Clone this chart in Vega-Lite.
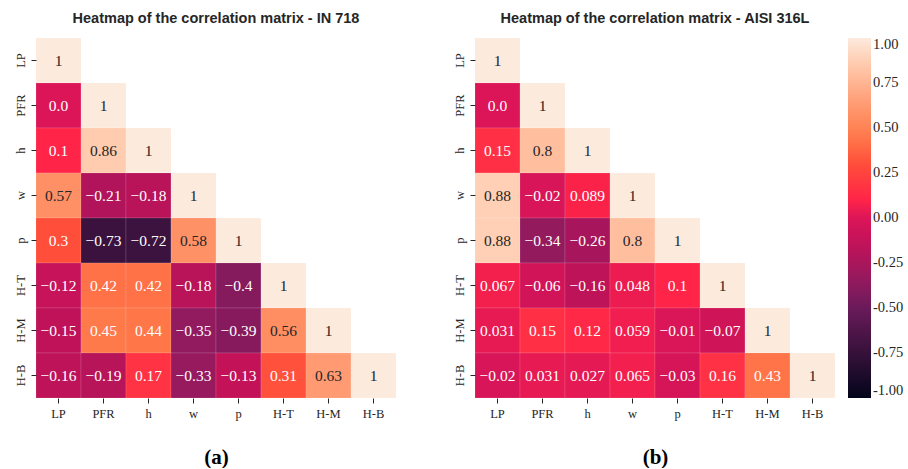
{
  "$schema": "https://vega.github.io/schema/vega-lite/v6.json",
  "padding": {"left": 14, "top": 11, "right": 0, "bottom": 0},
  "background": "white",
  "datasets": {
    "corr": [
      {"panel": "a", "row": "LP", "col": "LP", "value": 1, "label": "1"},
      {"panel": "a", "row": "PFR", "col": "LP", "value": 0.0, "label": "0.0"},
      {"panel": "a", "row": "PFR", "col": "PFR", "value": 1, "label": "1"},
      {"panel": "a", "row": "h", "col": "LP", "value": 0.1, "label": "0.1"},
      {"panel": "a", "row": "h", "col": "PFR", "value": 0.86, "label": "0.86"},
      {"panel": "a", "row": "h", "col": "h", "value": 1, "label": "1"},
      {"panel": "a", "row": "w", "col": "LP", "value": 0.57, "label": "0.57"},
      {"panel": "a", "row": "w", "col": "PFR", "value": -0.21, "label": "−0.21"},
      {"panel": "a", "row": "w", "col": "h", "value": -0.18, "label": "−0.18"},
      {"panel": "a", "row": "w", "col": "w", "value": 1, "label": "1"},
      {"panel": "a", "row": "p", "col": "LP", "value": 0.3, "label": "0.3"},
      {"panel": "a", "row": "p", "col": "PFR", "value": -0.73, "label": "−0.73"},
      {"panel": "a", "row": "p", "col": "h", "value": -0.72, "label": "−0.72"},
      {"panel": "a", "row": "p", "col": "w", "value": 0.58, "label": "0.58"},
      {"panel": "a", "row": "p", "col": "p", "value": 1, "label": "1"},
      {"panel": "a", "row": "H-T", "col": "LP", "value": -0.12, "label": "−0.12"},
      {"panel": "a", "row": "H-T", "col": "PFR", "value": 0.42, "label": "0.42"},
      {"panel": "a", "row": "H-T", "col": "h", "value": 0.42, "label": "0.42"},
      {"panel": "a", "row": "H-T", "col": "w", "value": -0.18, "label": "−0.18"},
      {"panel": "a", "row": "H-T", "col": "p", "value": -0.4, "label": "−0.4"},
      {"panel": "a", "row": "H-T", "col": "H-T", "value": 1, "label": "1"},
      {"panel": "a", "row": "H-M", "col": "LP", "value": -0.15, "label": "−0.15"},
      {"panel": "a", "row": "H-M", "col": "PFR", "value": 0.45, "label": "0.45"},
      {"panel": "a", "row": "H-M", "col": "h", "value": 0.44, "label": "0.44"},
      {"panel": "a", "row": "H-M", "col": "w", "value": -0.35, "label": "−0.35"},
      {"panel": "a", "row": "H-M", "col": "p", "value": -0.39, "label": "−0.39"},
      {"panel": "a", "row": "H-M", "col": "H-T", "value": 0.56, "label": "0.56"},
      {"panel": "a", "row": "H-M", "col": "H-M", "value": 1, "label": "1"},
      {"panel": "a", "row": "H-B", "col": "LP", "value": -0.16, "label": "−0.16"},
      {"panel": "a", "row": "H-B", "col": "PFR", "value": -0.19, "label": "−0.19"},
      {"panel": "a", "row": "H-B", "col": "h", "value": 0.17, "label": "0.17"},
      {"panel": "a", "row": "H-B", "col": "w", "value": -0.33, "label": "−0.33"},
      {"panel": "a", "row": "H-B", "col": "p", "value": -0.13, "label": "−0.13"},
      {"panel": "a", "row": "H-B", "col": "H-T", "value": 0.31, "label": "0.31"},
      {"panel": "a", "row": "H-B", "col": "H-M", "value": 0.63, "label": "0.63"},
      {"panel": "a", "row": "H-B", "col": "H-B", "value": 1, "label": "1"},

      {"panel": "b", "row": "LP", "col": "LP", "value": 1, "label": "1"},
      {"panel": "b", "row": "PFR", "col": "LP", "value": 0.0, "label": "0.0"},
      {"panel": "b", "row": "PFR", "col": "PFR", "value": 1, "label": "1"},
      {"panel": "b", "row": "h", "col": "LP", "value": 0.15, "label": "0.15"},
      {"panel": "b", "row": "h", "col": "PFR", "value": 0.8, "label": "0.8"},
      {"panel": "b", "row": "h", "col": "h", "value": 1, "label": "1"},
      {"panel": "b", "row": "w", "col": "LP", "value": 0.88, "label": "0.88"},
      {"panel": "b", "row": "w", "col": "PFR", "value": -0.02, "label": "−0.02"},
      {"panel": "b", "row": "w", "col": "h", "value": 0.089, "label": "0.089"},
      {"panel": "b", "row": "w", "col": "w", "value": 1, "label": "1"},
      {"panel": "b", "row": "p", "col": "LP", "value": 0.88, "label": "0.88"},
      {"panel": "b", "row": "p", "col": "PFR", "value": -0.34, "label": "−0.34"},
      {"panel": "b", "row": "p", "col": "h", "value": -0.26, "label": "−0.26"},
      {"panel": "b", "row": "p", "col": "w", "value": 0.8, "label": "0.8"},
      {"panel": "b", "row": "p", "col": "p", "value": 1, "label": "1"},
      {"panel": "b", "row": "H-T", "col": "LP", "value": 0.067, "label": "0.067"},
      {"panel": "b", "row": "H-T", "col": "PFR", "value": -0.06, "label": "−0.06"},
      {"panel": "b", "row": "H-T", "col": "h", "value": -0.16, "label": "−0.16"},
      {"panel": "b", "row": "H-T", "col": "w", "value": 0.048, "label": "0.048"},
      {"panel": "b", "row": "H-T", "col": "p", "value": 0.1, "label": "0.1"},
      {"panel": "b", "row": "H-T", "col": "H-T", "value": 1, "label": "1"},
      {"panel": "b", "row": "H-M", "col": "LP", "value": 0.031, "label": "0.031"},
      {"panel": "b", "row": "H-M", "col": "PFR", "value": 0.15, "label": "0.15"},
      {"panel": "b", "row": "H-M", "col": "h", "value": 0.12, "label": "0.12"},
      {"panel": "b", "row": "H-M", "col": "w", "value": 0.059, "label": "0.059"},
      {"panel": "b", "row": "H-M", "col": "p", "value": -0.01, "label": "−0.01"},
      {"panel": "b", "row": "H-M", "col": "H-T", "value": -0.07, "label": "−0.07"},
      {"panel": "b", "row": "H-M", "col": "H-M", "value": 1, "label": "1"},
      {"panel": "b", "row": "H-B", "col": "LP", "value": -0.02, "label": "−0.02"},
      {"panel": "b", "row": "H-B", "col": "PFR", "value": 0.031, "label": "0.031"},
      {"panel": "b", "row": "H-B", "col": "h", "value": 0.027, "label": "0.027"},
      {"panel": "b", "row": "H-B", "col": "w", "value": 0.065, "label": "0.065"},
      {"panel": "b", "row": "H-B", "col": "p", "value": -0.03, "label": "−0.03"},
      {"panel": "b", "row": "H-B", "col": "H-T", "value": 0.16, "label": "0.16"},
      {"panel": "b", "row": "H-B", "col": "H-M", "value": 0.43, "label": "0.43"},
      {"panel": "b", "row": "H-B", "col": "H-B", "value": 1, "label": "1"}
    ]
  },
  "hconcat": [
    {
      "width": 360,
      "height": 360,
      "title": {"text": "Heatmap of the correlation matrix - IN 718"},
      "data": {"name": "corr"},
      "transform": [{"filter": "datum.panel === 'a'"}],
      "encoding": {
        "x": {"field": "col", "type": "nominal", "sort": ["LP", "PFR", "h", "w", "p", "H-T", "H-M", "H-B"], "scale": {"domain": ["LP", "PFR", "h", "w", "p", "H-T", "H-M", "H-B"], "paddingInner": 0, "paddingOuter": 0}, "axis": {"title": "(a)"}},
        "y": {"field": "row", "type": "nominal", "sort": ["LP", "PFR", "h", "w", "p", "H-T", "H-M", "H-B"], "scale": {"domain": ["LP", "PFR", "h", "w", "p", "H-T", "H-M", "H-B"], "paddingInner": 0, "paddingOuter": 0}, "axis": {"title": null}}
      },
      "layer": [
        {
          "mark": {"type": "rect", "stroke": "white", "strokeOpacity": 0.25, "strokeWidth": 0.5},
          "encoding": {
            "color": {"field": "value", "type": "quantitative", "scale": {"domain": [-1, -0.75, -0.5, -0.35, -0.15, 0, 0.1, 0.3, 0.45, 0.63, 0.87, 1], "range": ["#03051A", "#36113A", "#6A1A5A", "#921A5E", "#C01259", "#DC1558", "#FF2448", "#FF4E3A", "#FF7A4A", "#FF9A72", "#FFCEB2", "#FCEADD"], "interpolate": "rgb"}, "legend": {"values": [-1, -0.75, -0.5, -0.25, 0, 0.25, 0.5, 0.75, 1], "format": ".2f", "labelExpr": "replace(datum.label, '−', '-')", "title": null}}
          }
        },
        {
          "mark": {"type": "text", "font": "Liberation Serif", "fontSize": 15.5},
          "encoding": {
            "text": {"field": "label"},
            "color": {"condition": {"test": "datum.value > 0.5", "value": "#262626"}, "value": "white"}
          }
        }
      ]
    },
    {
      "width": 360,
      "height": 360,
      "title": {"text": "Heatmap of the correlation matrix - AISI 316L"},
      "data": {"name": "corr"},
      "transform": [{"filter": "datum.panel === 'b'"}],
      "encoding": {
        "x": {"field": "col", "type": "nominal", "sort": ["LP", "PFR", "h", "w", "p", "H-T", "H-M", "H-B"], "scale": {"domain": ["LP", "PFR", "h", "w", "p", "H-T", "H-M", "H-B"], "paddingInner": 0, "paddingOuter": 0}, "axis": {"title": "(b)"}},
        "y": {"field": "row", "type": "nominal", "sort": ["LP", "PFR", "h", "w", "p", "H-T", "H-M", "H-B"], "scale": {"domain": ["LP", "PFR", "h", "w", "p", "H-T", "H-M", "H-B"], "paddingInner": 0, "paddingOuter": 0}, "axis": {"title": null}}
      },
      "layer": [
        {
          "mark": {"type": "rect", "stroke": "white", "strokeOpacity": 0.25, "strokeWidth": 0.5},
          "encoding": {
            "color": {"field": "value", "type": "quantitative", "scale": {"domain": [-1, -0.75, -0.5, -0.35, -0.15, 0, 0.1, 0.3, 0.45, 0.63, 0.87, 1], "range": ["#03051A", "#36113A", "#6A1A5A", "#921A5E", "#C01259", "#DC1558", "#FF2448", "#FF4E3A", "#FF7A4A", "#FF9A72", "#FFCEB2", "#FCEADD"], "interpolate": "rgb"}, "legend": {"values": [-1, -0.75, -0.5, -0.25, 0, 0.25, 0.5, 0.75, 1], "format": ".2f", "labelExpr": "replace(datum.label, '−', '-')", "title": null}}
          }
        },
        {
          "mark": {"type": "text", "font": "Liberation Serif", "fontSize": 15.5},
          "encoding": {
            "text": {"field": "label"},
            "color": {"condition": {"test": "datum.value > 0.5", "value": "#262626"}, "value": "white"}
          }
        }
      ]
    }
  ],
  "spacing": 56,
  "resolve": {"scale": {"color": "shared"}},
  "config": {
    "view": {"stroke": null},
    "title": {"font": "Liberation Sans", "fontSize": 14.5, "fontWeight": "bold", "color": "#262626", "offset": 11, "anchor": "middle"},
    "axis": {
      "domain": false,
      "grid": false,
      "tickSize": 5,
      "tickColor": "#262626",
      "tickWidth": 1,
      "labelFont": "Liberation Serif",
      "labelFontSize": 12.5,
      "labelColor": "#262626",
      "labelPadding": 4,
      "titleFont": "Liberation Serif",
      "titleFontSize": 21,
      "titleFontWeight": "bold",
      "titleColor": "black",
      "titlePadding": 27
    },
    "axisX": {"labelAngle": 0},
    "axisY": {"labelAngle": -90, "labelAlign": "center", "labelBaseline": "bottom"},
    "legend": {
      "orient": "right",
      "offset": 12,
      "gradientLength": 360,
      "gradientThickness": 23,
      "gradientStrokeWidth": 0,
      "labelFont": "Liberation Serif",
      "labelFontSize": 14.5,
      "labelColor": "#262626",
      "labelOffset": 5
    }
  }
}
